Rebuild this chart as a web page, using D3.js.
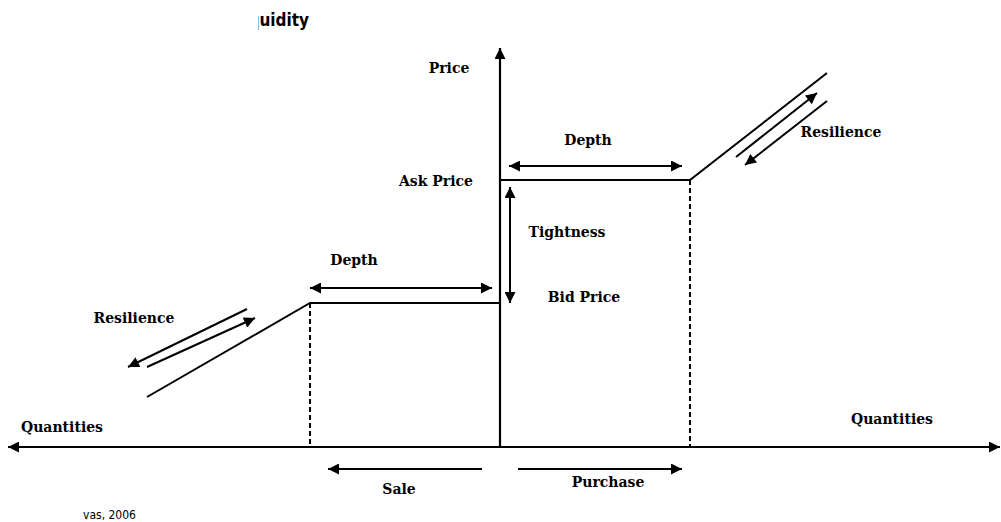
<!DOCTYPE html>
<html><head><meta charset="utf-8">
<script src="https://cdn.jsdelivr.net/npm/d3@7"></script>
<style>
html,body{margin:0;padding:0;background:#fff;}
svg{display:block;}
.lbl{font-family:"DejaVu Serif","Liberation Serif",serif;font-weight:bold;font-size:14px;fill:#000;}
</style></head>
<body>
<svg id="chart" width="1001" height="522"></svg>
<script>
// ---- data (abstract units: quantity on x, price on y) ----
const axisX = [-9.84, 10];          // quantity axis extent
const axisY = [0, 7.98];            // price axis extent
const bidPrice = 2.88;
const askPrice = 5.34;
const bidDepth = -3.8;              // sale side depth limit
const askDepth = 3.8;               // purchase side depth limit
const bidCurve = [[-7.06, 1.0], [-3.8, 2.88], [0, 2.88]];
const askCurve = [[0, 5.34], [3.8, 5.34], [6.54, 7.48]];
// annotation arrows: [x1,y1,x2,y2, heads]
const arrows = [
  [-3.8, 3.18, -0.16, 3.18, "both"],      // depth (sale)
  [0.18, 5.62, 3.64, 5.62, "both"],       // depth (purchase)
  [0.2, 5.2, 0.2, 2.88, "both"],          // tightness
  [-5.06, 2.76, -7.44, 1.6, "end"],       // resilience left (out)
  [-7.06, 1.6, -4.9, 2.58, "end"],        // resilience left (back)
  [4.72, 5.8, 6.34, 7.08, "end"],         // resilience right (up)
  [6.54, 6.92, 4.9, 5.64, "end"],         // resilience right (down)
  [-0.36, -0.44, -3.44, -0.44, "end"],    // sale
  [0.36, -0.44, 3.64, -0.44, "end"]       // purchase
];
const labels = [
  ["Price", -1.02, 7.48, "middle"],
  ["Ask Price", -1.28, 5.22, "middle"],
  ["Tightness", 1.34, 4.2, "middle"],
  ["Bid Price", 1.68, 2.9, "middle"],
  ["Depth", -2.92, 3.64, "middle"],
  ["Depth", 1.76, 6.04, "middle"],
  ["Resilience", -7.32, 2.48, "middle"],
  ["Resilience", 6.82, 6.2, "middle"],
  ["Quantities", -8.76, 0.3, "middle"],
  ["Quantities", 7.84, 0.46, "middle"],
  ["Sale", -2.02, -0.94, "middle"],
  ["Purchase", 2.16, -0.8, "middle"]
];

const svg = d3.select("#chart");
const x = d3.scaleLinear().domain([-10, 10]).range([0, 1000]);
const y = d3.scaleLinear().domain([0, 8]).range([447, 47]);

const defs = svg.append("defs");
function marker(id, orient){
  defs.append("marker").attr("id", id).attr("viewBox", "0 0 10 10")
    .attr("refX", 10).attr("refY", 5).attr("markerWidth", 15).attr("markerHeight", 11)
    .attr("markerUnits", "userSpaceOnUse").attr("orient", orient)
    .append("path").attr("d", "M0,0 L10,5 L0,10 Z").attr("fill", "#000");
}
marker("ah", "auto");
marker("ahs", "auto-start-reverse");

// axes
svg.append("line").attr("x1", x(axisX[0])).attr("x2", x(axisX[1]))
  .attr("y1", y(0)).attr("y2", y(0)).attr("stroke", "#000").attr("stroke-width", 2.2)
  .attr("marker-start", "url(#ahs)").attr("marker-end", "url(#ah)");
svg.append("line").attr("x1", x(0)).attr("x2", x(0))
  .attr("y1", y(0)).attr("y2", y(axisY[1])).attr("stroke", "#000").attr("stroke-width", 2.2)
  .attr("marker-end", "url(#ah)");

// curves
const line = d3.line().x(d => x(d[0])).y(d => y(d[1]));
[bidCurve, askCurve].forEach(c => svg.append("path").attr("d", line(c))
  .attr("fill", "none").attr("stroke", "#000").attr("stroke-width", 2));

// dashed depth limits
[[bidDepth, bidPrice], [askDepth, askPrice]].forEach(([qx, p]) =>
  svg.append("line").attr("x1", x(qx)).attr("x2", x(qx)).attr("y1", y(p)).attr("y2", y(0))
    .attr("stroke", "#000").attr("stroke-width", 2).attr("stroke-dasharray", "5,3"));

// arrows
arrows.forEach(([x1, y1, x2, y2, h]) => {
  const l = svg.append("line").attr("x1", x(x1)).attr("y1", y(y1)).attr("x2", x(x2)).attr("y2", y(y2))
    .attr("stroke", "#000").attr("stroke-width", 2);
  if (h === "end" || h === "both") l.attr("marker-end", "url(#ah)");
  if (h === "start" || h === "both") l.attr("marker-start", "url(#ahs)");
});

// labels
labels.forEach(([t, lx, ly, a]) => svg.append("text").attr("class", "lbl")
  .attr("x", x(lx)).attr("y", y(ly)).attr("text-anchor", a).text(t));

// cropped title and source
svg.append("clipPath").attr("id", "tclip").append("rect")
  .attr("x", 258).attr("y", 0).attr("width", 200).attr("height", 40);
svg.append("text").attr("clip-path", "url(#tclip)")
  .attr("x", 309).attr("y", 26).attr("text-anchor", "end")
  .style("font-family", "'DejaVu Sans Condensed','DejaVu Sans',sans-serif")
  .style("font-weight", "bold").style("font-size", "17px").text("Liquidity");
svg.append("text").attr("x", 83).attr("y", 519)
  .style("font-family", "'DejaVu Sans Condensed','DejaVu Sans',sans-serif")
  .style("font-size", "12px").text("vas, 2006");
</script>
</body></html>
